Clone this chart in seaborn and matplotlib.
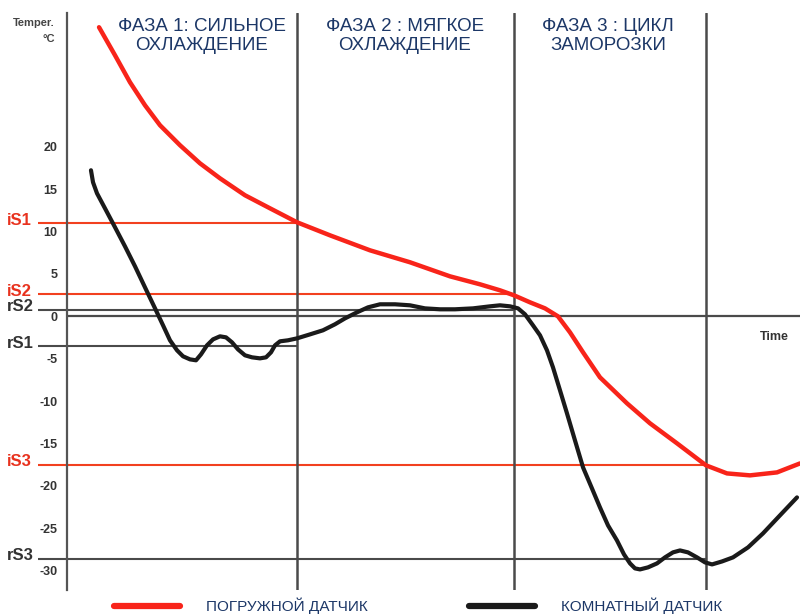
import numpy as np
import pandas as pd
import matplotlib
matplotlib.use("Agg")
import matplotlib.pyplot as plt
import seaborn as sns

# time in arbitrary units (0..100), temperature in °C
red_time = [4.37, 6.55, 8.59, 10.64, 12.69, 15.42, 18.14, 20.87, 24.28, 27.69,
            31.38, 35.88, 41.34, 46.79, 52.25, 56.34, 59.07, 60.98, 63.17, 65.21,
            66.98, 68.62, 70.40, 72.71, 76.40, 79.54, 83.22, 87.18, 90.04, 93.18,
            96.86, 100.0]
red_temp = [34.12, 30.81, 27.63, 24.91, 22.55, 20.19, 18.06, 16.29, 14.29, 12.75,
            11.10, 9.56, 7.79, 6.38, 4.72, 3.78, 3.07, 2.48, 1.65, 0.94,
            0.0, -1.89, -4.25, -7.20, -10.27, -12.63, -14.99, -17.59, -18.54, -18.77,
            -18.42, -17.36]

black_time = [3.27, 3.55, 4.09, 5.18, 6.55, 7.91, 9.28, 10.64, 12.01, 13.10,
              14.05, 15.01, 15.83, 16.78, 17.60, 18.28, 19.10, 19.92, 20.87, 21.69,
              22.51, 23.33, 24.28, 25.24, 26.33, 27.15, 27.83, 28.38, 29.06, 30.15,
              31.38, 33.15, 34.92, 36.56, 37.93, 39.56, 41.06, 42.70, 44.75, 46.79,
              48.84, 50.89, 52.93, 55.39, 57.71, 59.07, 60.44, 61.53, 62.48, 63.57,
              64.53, 65.48, 66.30, 67.26, 68.21, 69.30, 70.40, 71.62, 72.71, 73.81,
              75.03, 75.99, 76.81, 77.49, 78.17, 79.26, 80.49, 81.58, 82.67, 83.63,
              84.72, 85.95, 87.04, 88.00, 89.36, 90.86, 92.91, 94.95, 97.27, 99.59]
black_temp = [17.24, 15.82, 14.52, 12.75, 10.51, 8.26, 5.90, 3.42, 0.94, -1.06,
              -2.83, -4.01, -4.72, -5.08, -5.19, -4.49, -3.42, -2.72, -2.36, -2.48,
              -3.07, -3.90, -4.60, -4.84, -4.96, -4.84, -4.25, -3.42, -2.95, -2.83,
              -2.60, -2.13, -1.65, -0.94, -0.24, 0.47, 1.06, 1.42, 1.42, 1.30,
              0.94, 0.83, 0.83, 0.94, 1.18, 1.30, 1.18, 0.94, 0.24, -1.06,
              -2.24, -4.01, -6.02, -8.74, -11.45, -14.64, -17.83, -20.31, -22.55, -24.68,
              -26.45, -28.10, -29.16, -29.75, -29.87, -29.63, -29.16, -28.45, -27.86, -27.63,
              -27.86, -28.45, -29.04, -29.28, -28.93, -28.45, -27.27, -25.62, -23.49, -21.37]

phase_ends = [31.4, 61.0, 87.2]
phase_titles = ["ФАЗА 1: СИЛЬНОЕ\nОХЛАЖДЕНИЕ", "ФАЗА 2 : МЯГКОЕ\nОХЛАЖДЕНИЕ",
                "ФАЗА 3 : ЦИКЛ\nЗАМОРОЗКИ"]
phase_title_x = [18.4, 46.1, 73.8]

set_names = ["iS1", "iS2", "rS2", "rS1", "iS3", "rS3"]
set_values = [11.0, 2.6, 0.8, -3.5, -17.5, -28.6]
set_kind = ["i", "i", "r", "r", "i", "r"]
set_phase = [0, 1, 1, 0, 2, 2]

y_ticks = [20, 15, 10, 5, 0, -5, -10, -15, -20, -25, -30]
legend_labels = ["ПОГРУЖНОЙ ДАТЧИК", "КОМНАТНЫЙ ДАТЧИК"]

sns.set_style("white")
plt.rcParams["font.family"] = ["Liberation Sans", "DejaVu Sans"]

RED = "#f8241a"
RED_THIN = "#f2401f"
GREY = "#4a4a4a"
NAVY = "#1c3767"

fig = plt.figure(figsize=(8, 6.16), dpi=100)
ax = fig.add_axes([67 / 800, 1 - 590 / 616, 1 - 67 / 800, (590 - 13) / 616])
ax.set_xlim(0, 100)
ax.set_ylim(-32.3, 35.8)

# set-point lines
for name, val, kind, ph in zip(set_names, set_values, set_kind, set_phase):
    col = RED_THIN if kind == "i" else GREY
    ax.hlines(val, -4.0, phase_ends[ph], color=col, lw=1.5, clip_on=False, zorder=2)
    ax.text(-8.2, val + 0.35, name, color=("#e8321e" if kind == "i" else "#333333"),
            fontsize=12, fontweight="bold", ha="left", va="center", clip_on=False)

# zero line / time axis
ax.axhline(0, color=GREY, lw=1.6, zorder=2)
ax.text(96.5, -2.4, "Time", fontsize=9, fontweight="bold", color="#333333",
        ha="center", va="center")

# phase boundaries
for xe in phase_ends:
    ax.axvline(xe, color=GREY, lw=1.8, zorder=2)
for xt, title in zip(phase_title_x, phase_titles):
    ax.text(xt, 33.1, title, fontsize=13.5, color=NAVY, ha="center", va="center",
            linespacing=1.17)

df_red = pd.DataFrame({"t": red_time, "T": red_temp})
df_black = pd.DataFrame({"t": black_time, "T": black_temp})
sns.lineplot(data=df_red, x="t", y="T", sort=False, estimator=None, color=RED,
             lw=3.2, ax=ax, zorder=4, solid_joinstyle="round", solid_capstyle="round")
sns.lineplot(data=df_black, x="t", y="T", sort=False, estimator=None, color="#1a1a1a",
             lw=3.0, ax=ax, zorder=3, solid_joinstyle="round", solid_capstyle="round")

# axes cosmetics
for s in ["top", "right", "bottom"]:
    ax.spines[s].set_visible(False)
ax.spines["left"].set_color("#555555")
ax.spines["left"].set_linewidth(1.6)
ax.set_xticks([])
ax.set_yticks(y_ticks)
ax.set_yticklabels([str(v) for v in y_ticks])
ax.tick_params(axis="y", direction="in", length=6, width=1.3, color="#555555",
               pad=7, labelsize=9, labelcolor="#333333")
for lbl in ax.get_yticklabels():
    lbl.set_fontweight("bold")
ax.set_xlabel("")
ax.set_ylabel("")

fig.text(55 / 800, 1 - 23 / 616, "Temper.", fontsize=8, fontweight="bold",
         color="#444444", ha="right", va="center")
fig.text(55 / 800, 1 - 39 / 616, "°C", fontsize=8, fontweight="bold",
         color="#444444", ha="right", va="center")

# legend below
handles = [plt.Line2D([], [], color=RED, lw=4.5),
           plt.Line2D([], [], color="#1a1a1a", lw=4.5)]
leg = fig.legend(handles, legend_labels, loc="center left",
                 bbox_to_anchor=(114 / 800, 1 - 606 / 616), ncol=2, frameon=False,
                 fontsize=11, handlelength=4.3, handletextpad=1.75, columnspacing=6.6,
                 borderaxespad=0, borderpad=0)
for t in leg.get_texts():
    t.set_color(NAVY)

fig.savefig("out.png", dpi=100)
